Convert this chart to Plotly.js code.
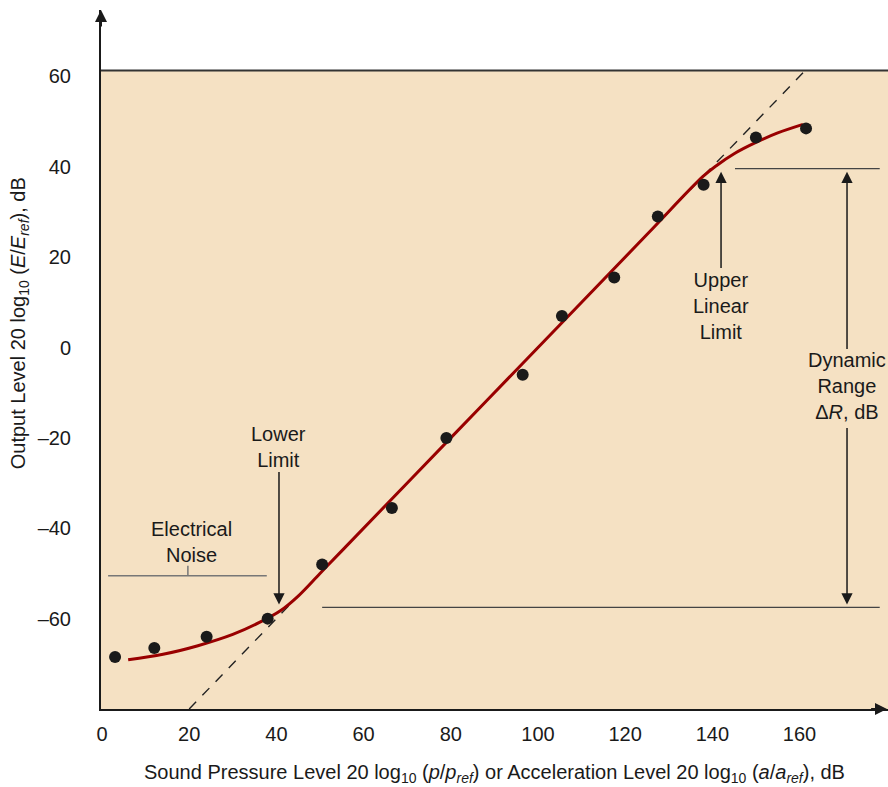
<!DOCTYPE html>
<html>
<head>
<meta charset="utf-8">
<script src="https://cdn.plot.ly/plotly-3.0.1.min.js"></script>
<style>html,body{margin:0;padding:0;background:#fff;}#chart{width:888px;height:787px;}</style>
</head>
<body>
<div id="chart"></div>
<script>
// Measured points: input level (dB) vs output level (dB)
const inputLevel  = [3, 12, 24, 38, 50.5, 66.5, 79, 96.5, 105.5, 117.5, 127.5, 138, 150, 161.5];
const outputLevel = [-68.5, -66.5, -64, -60, -48, -35.5, -20, -6, 7, 15.5, 29, 36, 46.5, 48.5];
// Transducer response curve
const curveX = [6, 14, 22, 30, 36, 41, 45, 50, 55, 80, 105, 125, 137.8, 141, 145, 150, 155, 160.8];
const curveY = [-69.1, -67.9, -66.0, -63.5, -60.9, -58.2, -55.0, -50.0, -45, -20, 5, 25, 37.8, 40.3, 42.9, 45.4, 47.5, 49.4];
// Ideal linear response (dashed)
const idealX = [20, 161.3];
const idealY = [-80, 61.3];
// Ticks
const xTicks = [0, 20, 40, 60, 80, 100, 120, 140, 160];
const yTicks = [-60, -40, -20, 0, 20, 40, 60];
// Annotation levels
const noiseLevel = -50.5;
const lowerLimitLevel = -57.5;
const upperLimitLevel = 39.6;
const plotTop = 61.3;

const FONT = '"Liberation Sans", Arial, Helvetica, sans-serif';
const TXT = '#1a1a1a';
const FS = 20;

const traces = [
  {x: idealX, y: idealY, mode: 'lines', line: {color: '#222', width: 1.4, dash: '10px,9px'}, hoverinfo: 'skip', showlegend: false},
  {x: curveX, y: curveY, mode: 'lines', line: {color: '#990000', width: 3, shape: 'spline', smoothing: 1}, showlegend: false},
  {x: inputLevel, y: outputLevel, mode: 'markers', marker: {color: '#1a1a1a', size: 12}, showlegend: false}
];

const arrowStyle = {showarrow: true, arrowhead: 2, arrowsize: 1.5, arrowwidth: 1.5, arrowcolor: '#1a1a1a', axref: 'x', ayref: 'y', xref: 'x', yref: 'y', standoff: 0, borderpad: 0, font: {size: FS, family: FONT, color: TXT}};

const layout = {
  width: 888, height: 787,
  margin: {l: 101, r: 0, t: 10, b: 78, pad: 0},
  paper_bgcolor: '#ffffff',
  plot_bgcolor: 'rgba(0,0,0,0)',
  font: {family: FONT, size: FS, color: TXT},
  xaxis: {
    range: [-0.23, 180.3], tickvals: xTicks, ticktext: xTicks.map(String),
    showgrid: false, zeroline: false, showline: true, linecolor: '#1a1a1a', linewidth: 2,
    ticks: '', ticklabelstandoff: 6, tickfont: {size: FS, family: FONT, color: TXT},
    title: {text: 'Sound Pressure Level 20 log<sub>10</sub> (<i>p</i>/<i>p</i><sub><i>ref</i></sub>) or Acceleration Level 20 log<sub>10</sub> (<i>a</i>/<i>a</i><sub><i>ref</i></sub>), dB', font: {size: FS, family: FONT, color: TXT}, standoff: 21},
    fixedrange: true
  },
  yaxis: {
    range: [-80, 74.7], tickvals: yTicks, ticktext: yTicks.map(v => v < 0 ? '\u2013' + Math.abs(v) : String(v)),
    showgrid: false, zeroline: false, showline: true, linecolor: '#1a1a1a', linewidth: 2,
    ticks: '', ticklabelstandoff: 24, tickfont: {size: FS, family: FONT, color: TXT},
    fixedrange: true
  },
  shapes: [
    {type: 'rect', xref: 'paper', yref: 'y', x0: 0, x1: 1, y0: -80, y1: plotTop, fillcolor: '#F5E1C3', line: {width: 0}, layer: 'below'},
    {type: 'line', xref: 'paper', yref: 'y', x0: 0, x1: 1, y0: plotTop, y1: plotTop, line: {color: '#333', width: 2}},
    {type: 'line', xref: 'x', yref: 'y', x0: 1.4, x1: 37.8, y0: noiseLevel, y1: noiseLevel, line: {color: '#777', width: 1.5}},
    {type: 'line', xref: 'x', yref: 'y', x0: 19.7, x1: 19.7, y0: noiseLevel, y1: -48.3, line: {color: '#777', width: 1.5}},
    {type: 'line', xref: 'x', yref: 'y', x0: 50.5, x1: 178.4, y0: lowerLimitLevel, y1: lowerLimitLevel, line: {color: '#444', width: 1.3}},
    {type: 'line', xref: 'x', yref: 'y', x0: 145.2, x1: 178.4, y0: upperLimitLevel, y1: upperLimitLevel, line: {color: '#444', width: 1.3}}
  ],
  annotations: [
    // axis arrowheads
    {xref: 'paper', yref: 'y', x: 0.9995, y: -80, ax: -18, ay: 0, showarrow: true, arrowhead: 2, arrowsize: 1.2, arrowwidth: 2, arrowcolor: '#1a1a1a', text: '', standoff: 0},
    {xref: 'paper', yref: 'paper', x: 0, y: 1, ax: 0, ay: 18, showarrow: true, arrowhead: 2, arrowsize: 1.2, arrowwidth: 2, arrowcolor: '#1a1a1a', text: '', standoff: 0},
    // y-axis title
    {xref: 'paper', yref: 'paper', x: -0.104, y: 0.552, xanchor: 'center', yanchor: 'middle', textangle: -90, showarrow: false,
     text: 'Output Level 20 log<sub>10</sub> (<i>E</i>/<i>E</i><sub><i>ref</i></sub>), dB', font: {size: FS, family: FONT, color: TXT}},
    // text labels
    {x: 20.6, y: -43, xref: 'x', yref: 'y', showarrow: false, text: 'Electrical<br>Noise', font: {size: FS, family: FONT, color: TXT}},
    // labels with arrows (text at tail, arrow to tip)
    Object.assign({text: 'Lower<br>Limit', x: 40.6, y: -56.9, ax: 40.6, ay: -22.1}, arrowStyle),
    Object.assign({text: 'Upper<br>Linear<br>Limit', x: 142, y: 38.9, ax: 142, ay: 9.3}, arrowStyle),
    Object.assign({text: 'Dynamic<br>Range<br>\u0394<i>R</i>, dB', x: 170.9, y: 38.9, ax: 170.9, ay: -8.6}, arrowStyle),
    Object.assign({text: '', x: 170.9, y: -56.9, ax: 170.9, ay: -17.7}, arrowStyle)
  ]
};

Plotly.newPlot('chart', traces, layout, {displayModeBar: false, staticPlot: true});
</script>
</body>
</html>
